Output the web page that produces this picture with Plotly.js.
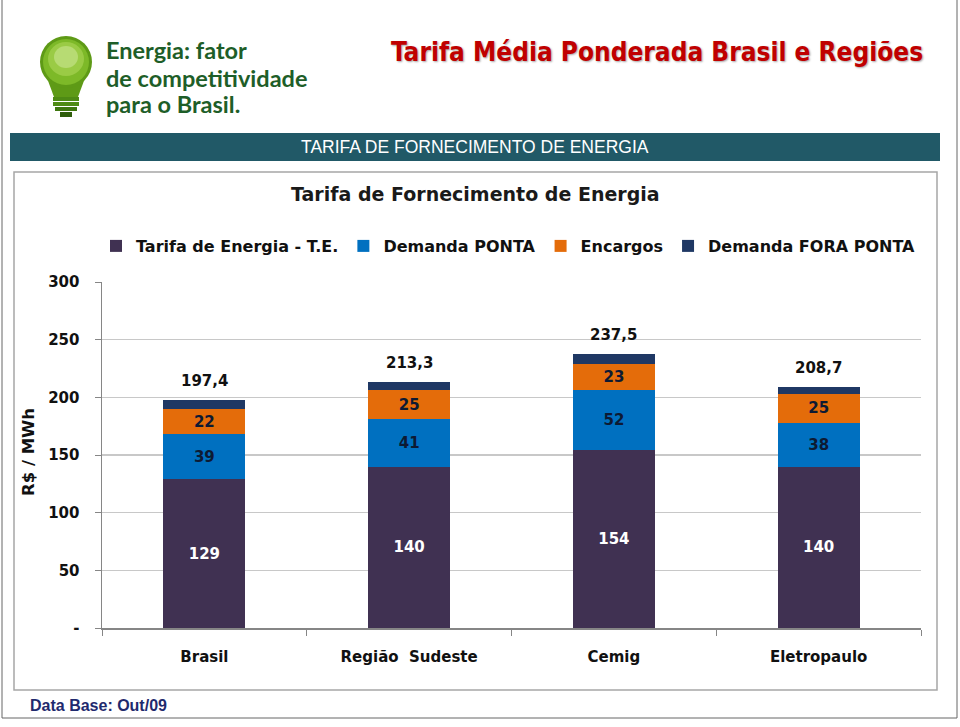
<!DOCTYPE html>
<html><head><meta charset="utf-8">
<script src="https://cdn.plot.ly/plotly-3.0.1.min.js"></script>
<style>html,body{margin:0;padding:0;background:#fff;}#chart{width:960px;height:727px;}</style>
</head><body><div id="chart"></div>
<script>
const categories = ['Brasil', 'Região  Sudeste', 'Cemig', 'Eletropaulo'];
const tarifaEnergia = [129, 140, 154, 140];
const demandaPonta = [39, 41, 52, 38];
const encargos = [22, 25, 23, 25];
const demandaForaPonta = [7.4, 7.3, 8.5, 5.7];
const totals = [197.4, 213.3, 237.5, 208.7];
const totalLabels = ['197,4', '213,3', '237,5', '208,7'];
const seriesNames = ['Tarifa de Energia - T.E.', 'Demanda PONTA', 'Encargos', 'Demanda FORA PONTA'];
const yTickVals = [0, 50, 100, 150, 200, 250, 300];
const yTickText = ['-', '50', '100', '150', '200', '250', '300'];

const W = 960, H = 727, L = 102, R = 39, T = 282, B = 99;
const PW = W - L - R, PH = H - T - B;
const px = x => (x - L) / PW;
const py = y => (H - B - y) / PH;

const colors = ['#403152', '#0070C0', '#E46C0A', '#1F3864'];
const boldFam = 'DejaVu Sans';

function barTrace(vals, i, showText, txtColor) {
  return {
    type: 'bar', x: categories, y: vals, name: '<b>' + seriesNames[i] + '</b>',
    marker: {color: colors[i], line: {width: 0}},
    text: showText ? vals.map(v => '<b>' + v + '</b>') : undefined,
    textposition: showText ? 'inside' : 'none',
    insidetextanchor: 'middle', textangle: 0,
    textfont: {family: boldFam, size: 15, color: txtColor},
    hoverinfo: 'skip'
  };
}
const data = [
  barTrace(tarifaEnergia, 0, true, '#ffffff'),
  barTrace(demandaPonta, 1, true, '#0d1a33'),
  barTrace(encargos, 2, true, '#0d1a33'),
  barTrace(demandaForaPonta, 3, false, '#000')
];

const annotations = categories.map((c, i) => ({
  x: c, y: totals[i], xref: 'x', yref: 'y', text: '<b>' + totalLabels[i] + '</b>',
  showarrow: false, yanchor: 'bottom', yshift: 8,
  font: {family: boldFam, size: 15, color: '#111'}
}));

function paperText(x, y, text, font, xanchor, extra) {
  return Object.assign({xref: 'paper', yref: 'paper', x: px(x), y: py(y), text: text,
    showarrow: false, xanchor: xanchor || 'center', yanchor: 'middle', font: font}, extra || {});
}
const logoFont = {family: 'Lato', size: 23.5, color: '#1E5E28', weight: 'bold'};
annotations.push(
  paperText(389, 52, '<b>Tarifa Média Ponderada Brasil e Regiões</b>',
    {family: 'DejaVu Sans Condensed, DejaVu Sans', size: 26, color: '#C00000',
     shadow: '1px 1px 2px rgba(0,0,0,0.35)'}, 'left'),
  paperText(475, 147, 'TARIFA DE FORNECIMENTO DE ENERGIA',
    {family: 'Liberation Sans', size: 17.5, color: '#ffffff'}),
  paperText(475, 194, '<b>Tarifa de Fornecimento de Energia</b>',
    {family: 'DejaVu Sans', size: 19, color: '#1a1a1a'}),
  paperText(28, 452, '<b>R$ / MWh</b>',
    {family: 'DejaVu Sans', size: 16.5, color: '#111'}, 'center', {textangle: -90}),
  paperText(28, 705, '<b>Data Base: Out/09</b>',
    {family: 'Liberation Sans Narrow, Liberation Sans', size: 16, color: '#1F2A6E'}, 'left'),
  paperText(104, 50, 'Energia: fator', logoFont, 'left'),
  paperText(104, 78, 'de competitividade', logoFont, 'left'),
  paperText(104, 104, 'para o Brasil.', logoFont, 'left')
);

function rect(x0, y0, x1, y1, style) {
  return Object.assign({type: 'rect', xref: 'paper', yref: 'paper',
    x0: px(x0), x1: px(x1), y0: py(y0), y1: py(y1), layer: 'below'}, style);
}
function circle(x0, y0, x1, y1, style) {
  return Object.assign({type: 'circle', xref: 'paper', yref: 'paper',
    x0: px(x0), x1: px(x1), y0: py(y0), y1: py(y1), layer: 'below'}, style);
}
const shapes = [
  rect(2, -5, 957, 718, {line: {color: '#666', width: 1}, fillcolor: 'rgba(0,0,0,0)'}),
  rect(10, 133, 940, 161, {line: {width: 0}, fillcolor: '#215967'}),
  rect(14, 172, 937, 690, {line: {color: '#A6A6A6', width: 1.5}, fillcolor: '#ffffff'}),
  // bulb
  {type: 'path', xref: 'paper', yref: 'paper', layer: 'below',
   path: `M ${px(47)} ${py(78)} L ${px(85)} ${py(78)} L ${px(78)} ${py(97)} L ${px(54)} ${py(97)} Z`,
   line: {width: 0}, fillcolor: '#5E9A16'},
  circle(40, 36, 92, 88, {line: {width: 0}, fillcolor: '#5E9A16'}),
  circle(43, 39, 89, 85, {line: {width: 0}, fillcolor: '#7DB928'}),
  circle(48, 42, 84, 76, {line: {width: 0}, fillcolor: '#9ACB45'}),
  circle(54, 46, 78, 68, {line: {width: 0}, fillcolor: '#B7DB73'}),
  rect(53, 97, 79, 101, {line: {width: 0}, fillcolor: '#4E8A14'}),
  rect(53, 102, 79, 106, {line: {width: 0}, fillcolor: '#4E8A14'}),
  rect(55, 107, 77, 111, {line: {width: 0}, fillcolor: '#3F7710'}),
  rect(60, 112, 72, 117, {line: {width: 0}, fillcolor: '#2F5E0C'})
];

const layout = {
  width: W, height: H,
  margin: {l: L, r: R, t: T, b: B, pad: 0},
  paper_bgcolor: '#ffffff', plot_bgcolor: '#ffffff',
  barmode: 'stack', bargap: 0.6,
  showlegend: true,
  legend: {orientation: 'h', x: px(96), y: py(246), xanchor: 'left', yanchor: 'middle',
    traceorder: 'normal', font: {family: 'DejaVu Sans', size: 16, color: '#111'},
    itemwidth: 30, bgcolor: 'rgba(0,0,0,0)'},
  xaxis: {type: 'category', showgrid: false, showline: true, linecolor: '#868686', linewidth: 1.5,
    ticks: 'outside', tickson: 'boundaries', ticklen: 6, tickcolor: '#868686',
    ticklabelstandoff: 14,
    tickfont: {family: 'DejaVu Sans', size: 15, color: '#111'},
    tickvals: categories, ticktext: categories.map(c => '<b>' + c + '</b>')},
  yaxis: {range: [0, 300], tickvals: yTickVals, ticktext: yTickText.map(t => '<b>' + t + '</b>'),
    showgrid: true, gridcolor: '#C8C8C8', gridwidth: 1.5, showline: true, linecolor: '#868686', linewidth: 1.5,
    ticks: 'outside', ticklen: 6, tickcolor: '#868686', ticklabelstandoff: 12, zeroline: false,
    tickfont: {family: 'DejaVu Sans', size: 15, color: '#111'}},
  annotations: annotations,
  shapes: shapes
};
Plotly.newPlot('chart', data, layout, {displayModeBar: false, staticPlot: true});
</script></body></html>
